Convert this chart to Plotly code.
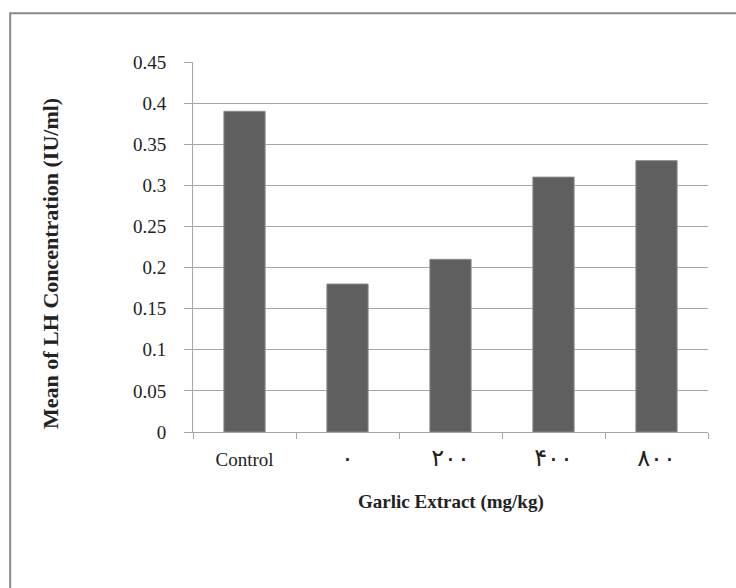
import plotly.graph_objects as go

categories = ["Control", "\u06f0", "\u06f2\u06f0\u06f0", "\u06f4\u06f0\u06f0", "\u06f8\u06f0\u06f0"]
lh_values = [0.39, 0.18, 0.21, 0.31, 0.33]
y_tickvals = [0, 0.05, 0.1, 0.15, 0.2, 0.25, 0.3, 0.35, 0.4, 0.45]
y_ticktext = ["0", "0.05", "0.1", "0.15", "0.2", "0.25", "0.3", "0.35", "0.4", "0.45"]
x_title = "Garlic Extract (mg/kg)"
y_title = "Mean of LH Concentration (IU/ml)"

FONT = "Liberation Serif, DejaVu Sans, serif"
GRID = "#a6a6a6"
TXT = "#222222"

x_ticktext = [
    c if c == "Control"
    else '<span style="font-family:DejaVu Sans;font-size:24px">%s</span>' % c
    for c in categories
]

fig = go.Figure(
    go.Bar(
        x=categories,
        y=lh_values,
        marker=dict(color="#5f5f5f", line=dict(color="#8a8a8a", width=1)),
    )
)

fig.update_layout(
    width=736,
    height=588,
    margin=dict(l=193, r=28, t=62, b=156),
    paper_bgcolor="white",
    plot_bgcolor="white",
    bargap=0.6,
    showlegend=False,
    font=dict(family=FONT, size=19, color=TXT),
    xaxis=dict(
        type="category",
        tickson="boundaries",
        ticks="outside",
        ticklen=6,
        tickcolor=GRID,
        showline=True,
        linecolor=GRID,
        linewidth=1,
        showgrid=False,
        tickmode="array",
        tickvals=categories,
        ticktext=x_ticktext,
        tickfont=dict(family=FONT, size=19, color=TXT),
        ticklabelstandoff=10,
    ),
    yaxis=dict(
        range=[0, 0.45],
        tickvals=y_tickvals,
        ticktext=y_ticktext,
        ticks="outside",
        ticklen=8,
        tickcolor=GRID,
        showline=True,
        linecolor=GRID,
        linewidth=1,
        showgrid=True,
        gridcolor=GRID,
        gridwidth=1,
        zeroline=False,
        tickfont=dict(family=FONT, size=19, color=TXT),
        ticklabelstandoff=14,
    ),
    annotations=[
        dict(
            text="<b>%s</b>" % x_title,
            xref="paper", yref="paper",
            x=0.5, y=-0.19,
            xanchor="center", yanchor="middle",
            showarrow=False,
            font=dict(family=FONT, size=19, color=TXT),
        ),
        dict(
            text="<b>%s</b>" % y_title,
            xref="paper", yref="paper",
            x=-0.277, y=0.455,
            xanchor="center", yanchor="middle",
            textangle=-90,
            showarrow=False,
            font=dict(family=FONT, size=22, color=TXT),
        ),
    ],
    shapes=[
        dict(
            type="rect",
            xref="paper", yref="paper",
            x0=-0.355, x1=1.08, y0=-0.45, y1=1.132,
            line=dict(color="#888888", width=2),
            fillcolor="rgba(0,0,0,0)",
            layer="below",
        )
    ],
)

fig.write_html(
    "out.html",
    config={"displayModeBar": False},
    post_script="document.body.style.margin='0';document.body.style.padding='0';",
)
